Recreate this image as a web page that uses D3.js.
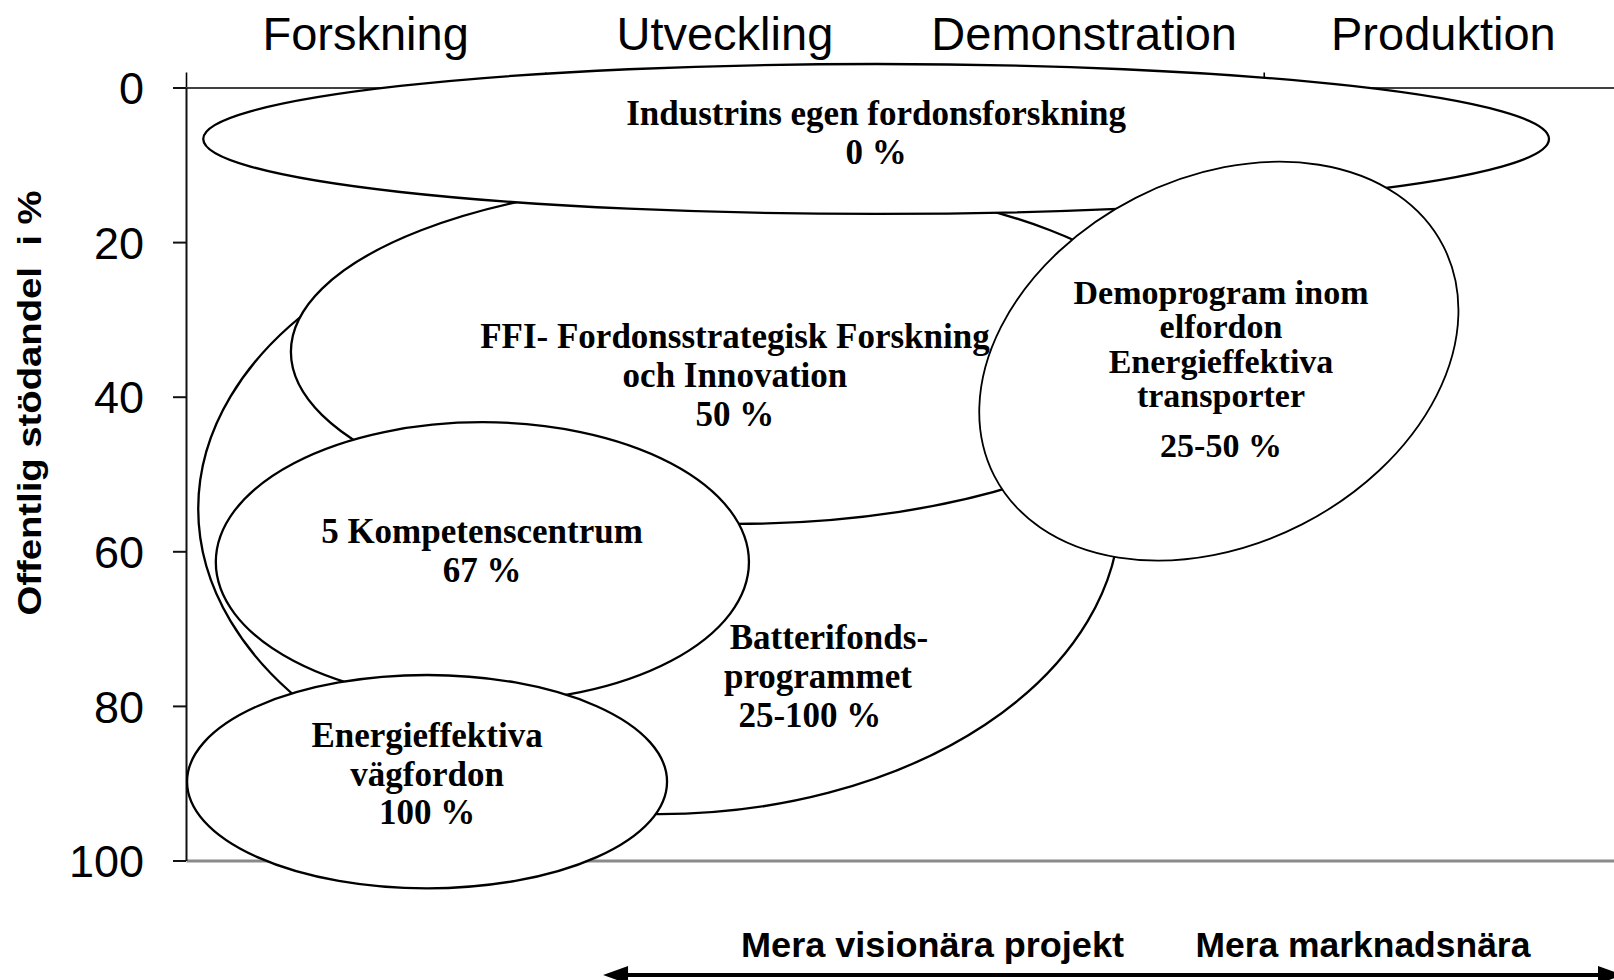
<!DOCTYPE html>
<html>
<head>
<meta charset="utf-8">
<script src="https://cdn.jsdelivr.net/npm/d3@7"></script>
<style>
  body { margin: 0; background: #fff; }
  svg { display: block; background: #fff; }
  .prog-label { font-family: "Liberation Serif", "Times New Roman", serif; font-weight: bold; font-size: 35px; fill: #000; }
  .stage { font-family: "Liberation Sans", Arial, sans-serif; font-size: 47px; fill: #000; }
  .yaxis text { font-family: "Liberation Sans", Arial, sans-serif; font-size: 45px; fill: #000; }
  .ytitle, .note { font-family: "Liberation Sans", Arial, sans-serif; font-weight: bold; fill: #000; white-space: pre; }
</style>
</head>
<body>
<div id="chart"></div>
<script>
(function () {

  /* data */
  // stages of the development chain (horizontal axis, one unit per stage)
  var stages = ["Forskning", "Utveckling", "Demonstration", "Produktion"];
  // public support share in % (vertical axis, 0 at the top)
  var shareTicks = [0, 20, 40, 60, 80, 100];

  // programmes, in drawing order (later ones lie on top)
  var programs = ["Batterifondsprogrammet", "FFI", "Industrins egen fordonsforskning",
                  "Demoprogram", "5 Kompetenscentrum", "Energieffektiva vägfordon"];
  var centerStage = [1.317, 1.530, 1.921, 2.875, 0.825, 0.671];   // stage units
  var spanStage   = [1.283, 1.238, 1.873, 0.702, 0.742, 0.668];   // half width, stage units
  var centerShare = [54.5, 34.2, 6.66, 35.4, 61.4, 89.8];         // %
  var spanShare   = [39.5, 22.25, 9.7, 23.7, 18.1, 13.8];         // half height, %

  var labelLines = [
    ["Batterifonds-", "programmet", "25-100 %"],
    ["FFI- Fordonsstrategisk Forskning", "och Innovation", "50 %"],
    ["Industrins egen fordonsforskning", "0 %"],
    ["Demoprogram inom", "elfordon", "Energieffektiva", "transporter", "25-50 %"],
    ["5 Kompetenscentrum", "67 %"],
    ["Energieffektiva", "vägfordon", "100 %"]
  ];

  var axisTitle = "Offentlig stödandel  i %";
  var notes = ["Mera visionära projekt", "Mera marknadsnära"];


  /* preperation */
  var width = 1614,
      height = 980;

  var svg = d3.select("#chart")
    .append("svg")
    .attr("width", width)
    .attr("height", height);

  // the last stage runs a little past the right edge of the picture
  var x = d3.scaleLinear().domain([0, stages.length]).range([186, 1623]);
  var y = d3.scaleLinear().domain([0, 100]).range([87.5, 860.5]);

  // layout of the labels: anchor (stage, %) of first line, line steps in px
  var labelLayout = [
    { at: [1.759, 72.7], steps: [38.6, 38.6], dx: [11, 0, -8] },
    { at: [1.528, 33.67], steps: [39, 39] },
    { at: [1.921, 4.9], steps: [39] },
    { at: [2.881, 28.0], steps: [34.4, 34.4, 34.4, 49.4], size: 34 },
    { at: [0.824, 58.98], steps: [39] },
    { at: [0.671, 85.34], steps: [38.5, 38.5] }
  ];
  var tilt = { "Demoprogram": -27 };


  /* axes */
  // top line at 0 % with stage boundary ticks
  svg.append("g")
    .attr("transform", "translate(0," + y(0) + ")")
    .call(d3.axisTop(x).tickValues(d3.range(stages.length)).tickSize(15).tickSizeOuter(0).tickFormat(""))
    .call(function (g) {
      g.selectAll("path, line").attr("stroke", "#000").attr("stroke-width", 1.6)
    });

  // bottom line at 100 %
  svg.append("g")
    .attr("transform", "translate(0," + y(100) + ")")
    .call(d3.axisBottom(x).tickValues([]).tickSizeOuter(0))
    .call(function (g) {
      g.select(".domain").attr("stroke", "#8a8a8a").attr("stroke-width", 3)
    });

  var yAxis = svg.append("g")
    .attr("class", "yaxis")
    .attr("transform", "translate(" + x(0) + ",0)")
    .call(d3.axisLeft(y).tickValues(shareTicks).tickSize(13).tickSizeOuter(0).tickPadding(29))
  yAxis.selectAll("path, line").attr("stroke", "#111").attr("stroke-width", 2);
  yAxis.selectAll("text").attr("dy", "0.36em");
  yAxis.attr("font-size", null).attr("font-family", null);

  svg.append("text")
    .attr("class", "ytitle")
    .attr("transform", "translate(41," + 403 + ") rotate(-90)")
    .attr("text-anchor", "middle")
    .attr("font-size", 33)
    .attr("textLength", 425)
    .attr("lengthAdjust", "spacingAndGlyphs")
    .text(axisTitle);

  // stage names above the chart
  svg.selectAll(".stage")
    .data(stages)
    .enter().append("text")
    .attr("class", "stage")
    .attr("x", function (d, i) { return x(i + 0.5) })
    .attr("y", 50)
    .attr("text-anchor", "middle")
    .text(function (d) { return d });


  /* programme ellipses */
  svg.selectAll(".prog")
    .data(d3.range(programs.length))
    .enter().append("ellipse")
    .attr("class", "prog")
    .attr("cx", function (i) { return x(centerStage[i]) })
    .attr("cy", function (i) { return y(centerShare[i]) })
    .attr("rx", function (i) { return x(spanStage[i]) - x(0) })
    .attr("ry", function (i) { return y(spanShare[i]) - y(0) })
    .attr("transform", function (i) {
      var t = tilt[programs[i]];
      return t ? "rotate(" + t + "," + x(centerStage[i]) + "," + y(centerShare[i]) + ")" : null
    })
    .attr("fill", "#fff")
    .attr("stroke", "#000")
    .attr("stroke-width", function (i) { return programs[i] === "Demoprogram" ? 1.8 : 2.3 });

  // labels on top of all ellipses
  var labels = svg.selectAll(".prog-label")
    .data(d3.range(programs.length))
    .enter().append("text")
    .attr("class", "prog-label")
    .attr("text-anchor", "middle")
    .style("font-size", function (i) { return labelLayout[i].size ? labelLayout[i].size + "px" : null });

  labels.each(function (i) {
    var lay = labelLayout[i];
    var x0 = x(lay.at[0]);
    var yy = y(lay.at[1]);
    d3.select(this).selectAll("tspan")
      .data(labelLines[i])
      .enter().append("tspan")
      .attr("x", function (d, k) { return x0 + (lay.dx ? lay.dx[k] : 0) })
      .attr("y", function (d, k) {
        if (k > 0) yy += lay.steps[k - 1];
        return yy
      })
      .text(function (d) { return d });
  });


  /* bottom arrow and notes */
  svg.selectAll(".note")
    .data(notes)
    .enter().append("text")
    .attr("class", "note")
    .attr("x", function (d, i) { return x([2.078, 3.276][i]) })
    .attr("y", 957)
    .attr("text-anchor", "middle")
    .attr("font-size", 35)
    .attr("textLength", function (d, i) { return [383, 335][i] })
    .attr("lengthAdjust", "spacingAndGlyphs")
    .text(function (d) { return d });

  var ay = 975;
  var left = x(1.161), right = x(4);
  svg.append("line")
    .attr("x1", left + 15).attr("x2", right - 15)
    .attr("y1", ay).attr("y2", ay)
    .attr("stroke", "#000").attr("stroke-width", 4);
  svg.append("path")
    .attr("d", "M" + left + "," + ay + "L" + (left + 25) + "," + (ay - 9) + "L" + (left + 25) + "," + (ay + 9) + "Z")
    .attr("fill", "#000");
  svg.append("path")
    .attr("d", "M" + right + "," + ay + "L" + (right - 25) + "," + (ay - 9) + "L" + (right - 25) + "," + (ay + 9) + "Z")
    .attr("fill", "#000");

})()
</script>
</body>
</html>
